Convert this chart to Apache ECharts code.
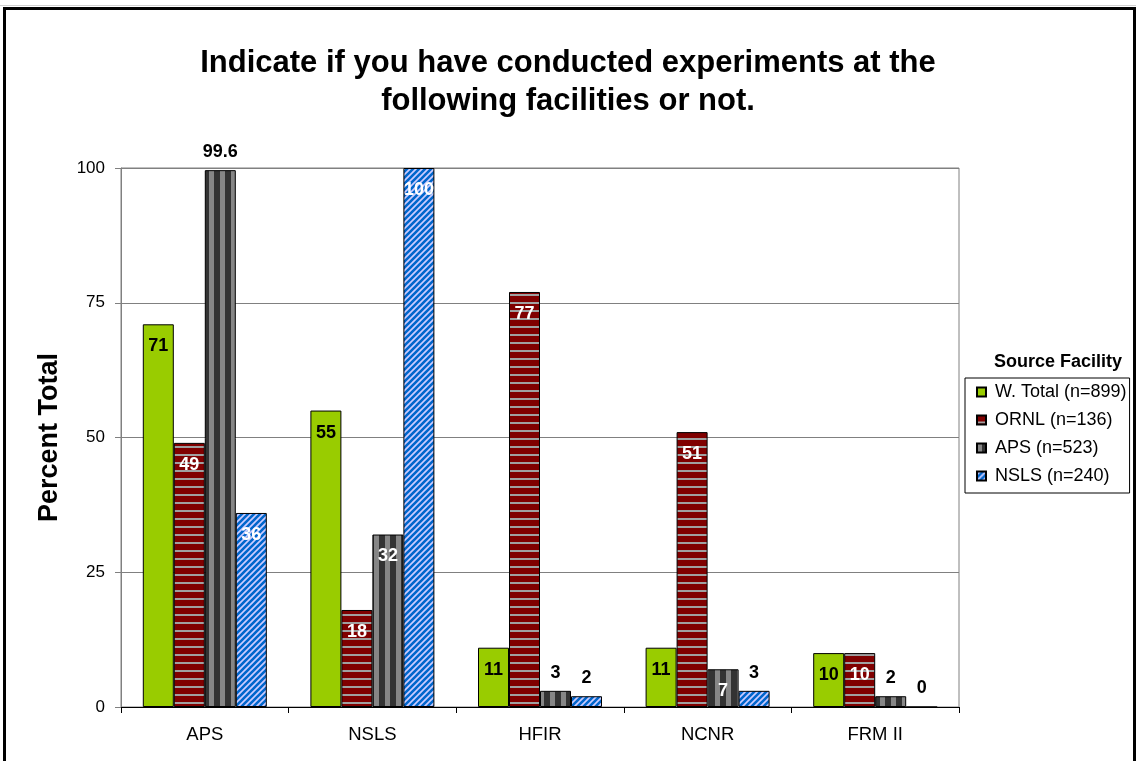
<!DOCTYPE html>
<html><head><meta charset="utf-8">
<script src="https://cdn.jsdelivr.net/npm/echarts@6/dist/echarts.min.js"></script>
<style>
html,body{margin:0;padding:0;background:#fff;overflow:hidden;}
#frame{position:absolute;left:3px;top:7px;width:1133px;height:800px;border:3px solid #000;border-bottom:none;box-sizing:border-box;}
#topline{position:absolute;left:0;top:5px;width:1136px;height:1px;background:#d0d0d0;}
#chart{position:absolute;left:0;top:0;width:1136px;height:761px;}
</style></head>
<body>
<div id="topline"></div>
<div id="frame"></div>
<div id="chart"></div>
<script>
const categories = ['APS', 'NSLS', 'HFIR', 'NCNR', 'FRM II'];
const seriesNames = ['W. Total (n=899)', 'ORNL (n=136)', 'APS (n=523)', 'NSLS (n=240)'];
const wTotal = [71, 55, 11, 11, 10];
const ornl = [49, 18, 77, 51, 10];
const aps = [99.6, 32, 3, 7, 2];
const nsls = [36, 100, 2, 3, 0];
const yTicks = [0, 25, 50, 75, 100];

const FONT = 'Liberation Sans, Arial, sans-serif';

function makeCanvas(w, h) { const c = document.createElement('canvas'); c.width = w; c.height = h; return c; }
function horizStripes() {
  const c = makeCanvas(8, 8), g = c.getContext('2d');
  g.fillStyle = '#800000'; g.fillRect(0, 0, 8, 8);
  g.fillStyle = '#a0a0a0'; g.fillRect(0, 6, 8, 2);
  return c;
}
function vertStripes() {
  const c = makeCanvas(11, 8), g = c.getContext('2d');
  g.fillStyle = '#333333'; g.fillRect(0, 0, 11, 8);
  g.fillStyle = '#868686'; g.fillRect(0, 0, 5, 8);
  return c;
}
function diagStripes() {
  const s = 6, c = makeCanvas(s, s), g = c.getContext('2d');
  g.fillStyle = '#ccccff'; g.fillRect(0, 0, s, s);
  g.strokeStyle = '#0066cc'; g.lineWidth = 2.6;
  g.beginPath();
  g.moveTo(-s, s); g.lineTo(s, -s);
  g.moveTo(0, s); g.lineTo(s, 0);
  g.moveTo(0, 2 * s); g.lineTo(2 * s, 0);
  g.stroke();
  return c;
}

const fills = [
  '#99cc00',
  { image: horizStripes(), repeat: 'repeat' },
  { image: vertStripes(), repeat: 'repeat' },
  { image: diagStripes(), repeat: 'repeat' }
];
const insideColors = ['#000', '#fff', '#fff', '#fff'];
const allData = [wTotal, ornl, aps, nsls];
// labels drawn above the bar instead of inside (series index _ category index)
const outsideOverride = { '2_0': true };

function buildData(si) {
  return allData[si].map((v, ci) => {
    const outside = v < 5 || outsideOverride[si + '_' + ci];
    return {
      value: v,
      label: outside
        ? { position: 'top', distance: 9, color: '#000' }
        : { position: 'insideTop', distance: 13, color: insideColors[si] }
    };
  });
}

const chart = echarts.init(document.getElementById('chart'));
chart.setOption({
  animation: false,
  textStyle: { fontFamily: FONT },
  title: {
    text: 'Indicate if you have conducted experiments at the\nfollowing facilities or not.',
    left: 'center', top: 39,
    textStyle: { fontSize: 31, fontWeight: 'bold', color: '#000', lineHeight: 38, fontFamily: FONT }
  },
  graphic: [{
    type: 'text', x: 1058, y: 362,
    style: { text: 'Source Facility', fontSize: 18, fontWeight: 'bold', fill: '#000', fontFamily: FONT, align: 'center', verticalAlign: 'middle' }
  }],
  legend: {
    orient: 'vertical', left: 965, top: 378,
    borderColor: '#000', borderWidth: 1,
    padding: [4, 3, 7, 11],
    itemGap: 8,
    itemWidth: 9, itemHeight: 9, icon: 'rect',
    textStyle: { fontSize: 18, color: '#000', lineHeight: 20, padding: [0, 0, 0, 4], fontFamily: FONT },
    data: seriesNames
  },
  grid: {
    left: 121, right: 177, top: 168, bottom: 54,
    show: true, borderColor: '#808080', borderWidth: 1
  },
  xAxis: {
    type: 'category', data: categories,
    axisLine: { lineStyle: { color: '#000', width: 1 } },
    axisTick: { show: true, length: 6, alignWithLabel: false, lineStyle: { color: '#000' } },
    axisLabel: { fontSize: 18.5, color: '#000', margin: 18 }
  },
  yAxis: {
    type: 'value', min: yTicks[0], max: yTicks[yTicks.length - 1], interval: 25,
    name: 'Percent Total', nameLocation: 'middle', nameRotate: 90, nameGap: 58,
    nameTextStyle: { fontSize: 27, fontWeight: 'bold', color: '#000' },
    axisLine: { show: true, lineStyle: { color: '#808080' } },
    axisTick: { show: true, length: 6, lineStyle: { color: '#808080' } },
    axisLabel: { fontSize: 17, color: '#000', margin: 16 },
    splitLine: { lineStyle: { color: '#808080', width: 1 } }
  },
  series: seriesNames.map((name, si) => ({
    name, type: 'bar',
    barWidth: 31, barGap: '0%',
    itemStyle: { color: fills[si], borderColor: '#000', borderWidth: 1 },
    label: { show: true, fontSize: 18, fontWeight: 'bold', fontFamily: FONT, formatter: p => String(p.value) },
    data: buildData(si)
  }))
});
</script>
</body></html>
